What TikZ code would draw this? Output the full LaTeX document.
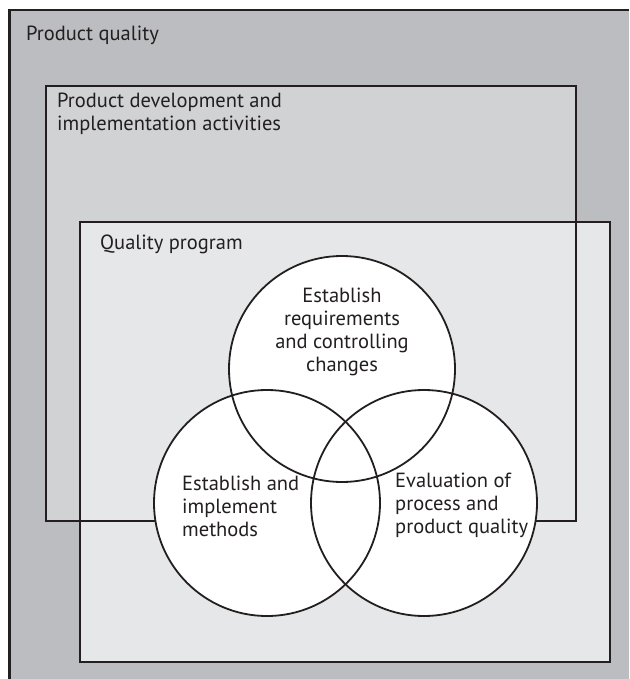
\documentclass[tikz,border=0pt]{standalone}
\usepackage{fontspec}
\setmainfont{PT Sans}
\definecolor{outergrey}{HTML}{BCBDC0}
\definecolor{devgrey}{HTML}{D1D2D4}
\definecolor{qpgrey}{HTML}{E6E7E8}
\definecolor{ink}{HTML}{231F20}
\begin{document}
\begin{tikzpicture}[x=1pt,y=-1pt,
  lbl/.style={inner sep=0pt, font=\fontsize{20.5}{23}\selectfont, text=ink},
  lblw/.style={lbl, anchor=base west},
  lblc/.style={lbl, anchor=base},
  boxline/.style={draw=ink, line width=2.6pt},
  circfill/.style={circle, minimum size=226pt, inner sep=0pt, fill=white, draw=none},
  circline/.style={draw=ink, line width=1.8pt}]
\useasboundingbox (0,0) rectangle (629,679);
% outer area: product quality
\fill[outergrey] (9.5,10) rectangle (629,679);
\draw[boxline] (9.5,679) -- (9.5,10) -- (629,10);
% coordinates of the two inner boxes
\coordinate (pdA) at (46,86);
\coordinate (pdB) at (576,521);
\coordinate (qpA) at (80,222);
\coordinate (qpB) at (610,662);
\fill[devgrey] (pdA) rectangle (pdB);
\fill[qpgrey] (qpA) rectangle (qpB);
\draw[boxline] (pdA) rectangle (pdB);
\draw[boxline] (qpA) rectangle (qpB);
% circles
\node[circfill] (req) at (342,369) {};
\node[circfill] (meth) at (267,503) {};
\node[circfill] (eval) at (424,503) {};
\draw[circline] (req.center) circle[radius=113pt];
\draw[circline] (meth.center) circle[radius=113pt];
\draw[circline] (eval.center) circle[radius=113pt];
% labels
\node[lblw] (tpq) at (26,41) {Product quality};
\node[lblw] (tpd1) at (57,108) {Product development and};
\node[lblw] (tpd2) at (57,131) {implementation activities};
\node[lblw] (tqp) at (100,249) {Quality program};
\node[lblc] (r1) at (342,302) {Establish};
\node[lblc] (r2) at (342,325) {requirements};
\node[lblc] (r3) at (342,348) {and controlling};
\node[lblc] (r4) at (342,371) {changes};
\node[lblw] (m1) at (182,490) {Establish and};
\node[lblw] (m2) at (182,513) {implement};
\node[lblw] (m3) at (182,536) {methods};
\node[lblw] (e1) at (395,487) {Evaluation of};
\node[lblw] (e2) at (395,510) {process and};
\node[lblw] (e3) at (395,533) {product quality};
\end{tikzpicture}
\end{document}
